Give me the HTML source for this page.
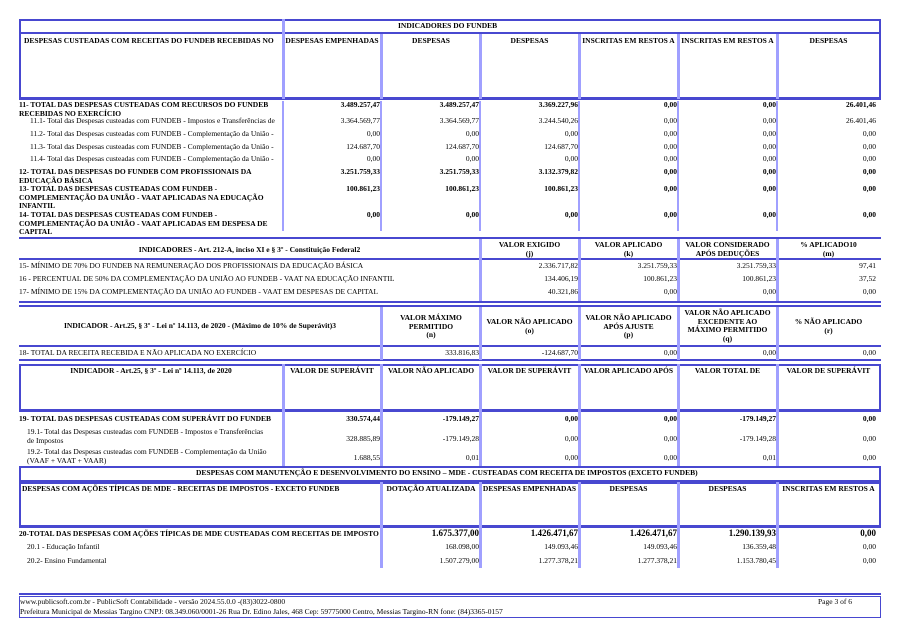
<!DOCTYPE html>
<html><head><meta charset="utf-8"><style>
body{margin:0;width:900px;height:637px;background:#fff;position:relative;overflow:hidden}
div{position:absolute;box-sizing:border-box}
.t{font-family:"Liberation Serif",serif;font-size:7.5px;line-height:8.5px;white-space:nowrap;color:#000}
.b{font-weight:bold}
.r{text-align:right}
.c{text-align:center}
.hd{background:#4848d0}
.lt{background:#a0a0ff}
.box{border:2px solid #4848d0}
</style></head><body>

<!-- SECTION 1 -->
<div class="box" style="left:19px;top:19px;width:862px;height:81px"></div>
<div class="hd" style="left:19px;top:32px;width:862px;height:2px"></div>
<div class="hd" style="left:19px;top:97px;width:862px;height:3px"></div>
<div class="lt" style="left:282px;top:19px;width:3px;height:80px"></div>
<div class="lt" style="left:380px;top:34px;width:3px;height:65px"></div>
<div class="lt" style="left:479px;top:34px;width:3px;height:65px"></div>
<div class="lt" style="left:578px;top:34px;width:3px;height:65px"></div>
<div class="lt" style="left:677px;top:34px;width:3px;height:65px"></div>
<div class="lt" style="left:776px;top:34px;width:3px;height:65px"></div>
<div class="t b" style="left:398px;top:22px">INDICADORES DO FUNDEB</div>
<div class="t b" style="left:24px;top:37px">DESPESAS CUSTEADAS COM RECEITAS DO FUNDEB RECEBIDAS NO</div>
<div class="t b c" style="left:283px;top:37px;width:98px">DESPESAS EMPENHADAS</div>
<div class="t b c" style="left:382px;top:37px;width:98px">DESPESAS</div>
<div class="t b c" style="left:480px;top:37px;width:99px">DESPESAS</div>
<div class="t b c" style="left:579px;top:37px;width:99px">INSCRITAS EM RESTOS A</div>
<div class="t b c" style="left:678px;top:37px;width:99px">INSCRITAS EM RESTOS A</div>
<div class="t b c" style="left:777px;top:37px;width:103px">DESPESAS</div>

<div class="lt" style="left:282px;top:101px;width:2px;height:130px"></div>
<div class="lt" style="left:380px;top:101px;width:2px;height:130px"></div>
<div class="lt" style="left:479px;top:101px;width:2px;height:130px"></div>
<div class="lt" style="left:578px;top:101px;width:2px;height:130px"></div>
<div class="lt" style="left:677px;top:101px;width:2px;height:130px"></div>
<div class="lt" style="left:776px;top:101px;width:2px;height:130px"></div>

<div class="t b" style="left:19px;top:101px">11- TOTAL DAS DESPESAS CUSTEADAS COM RECURSOS DO FUNDEB<br>RECEBIDAS NO EXERCÍCIO</div>
<div class="t" style="left:30px;top:117px">11.1- Total das Despesas custeadas com FUNDEB - Impostos e Transferências de</div>
<div class="t" style="left:30px;top:130px">11.2- Total das Despesas custeadas com FUNDEB - Complementação da União -</div>
<div class="t" style="left:30px;top:143px">11.3- Total das Despesas custeadas com FUNDEB - Complementação da União -</div>
<div class="t" style="left:30px;top:155px">11.4- Total das Despesas custeadas com FUNDEB - Complementação da União -</div>
<div class="t b" style="left:19px;top:168px">12- TOTAL DAS DESPESAS DO FUNDEB COM PROFISSIONAIS DA<br>EDUCAÇÃO BÁSICA</div>
<div class="t b" style="left:19px;top:185px">13- TOTAL DAS DESPESAS CUSTEADAS COM FUNDEB -<br>COMPLEMENTAÇÃO DA UNIÃO - VAAT APLICADAS NA EDUCAÇÃO<br>INFANTIL</div>
<div class="t b" style="left:19px;top:211px">14- TOTAL DAS DESPESAS CUSTEADAS COM FUNDEB -<br>COMPLEMENTAÇÃO DA UNIÃO - VAAT APLICADAS EM DESPESA DE<br>CAPITAL</div>

<div class="t b r" style="left:283px;top:101px;width:97px">3.489.257,47</div>
<div class="t b r" style="left:382px;top:101px;width:97px">3.489.257,47</div>
<div class="t b r" style="left:480px;top:101px;width:98px">3.369.227,96</div>
<div class="t b r" style="left:579px;top:101px;width:98px">0,00</div>
<div class="t b r" style="left:678px;top:101px;width:98px">0,00</div>
<div class="t b r" style="left:777px;top:101px;width:99px">26.401,46</div>

<div class="t r" style="left:283px;top:117px;width:97px">3.364.569,77</div>
<div class="t r" style="left:382px;top:117px;width:97px">3.364.569,77</div>
<div class="t r" style="left:480px;top:117px;width:98px">3.244.540,26</div>
<div class="t r" style="left:579px;top:117px;width:98px">0,00</div>
<div class="t r" style="left:678px;top:117px;width:98px">0,00</div>
<div class="t r" style="left:777px;top:117px;width:99px">26.401,46</div>

<div class="t r" style="left:283px;top:130px;width:97px">0,00</div>
<div class="t r" style="left:382px;top:130px;width:97px">0,00</div>
<div class="t r" style="left:480px;top:130px;width:98px">0,00</div>
<div class="t r" style="left:579px;top:130px;width:98px">0,00</div>
<div class="t r" style="left:678px;top:130px;width:98px">0,00</div>
<div class="t r" style="left:777px;top:130px;width:99px">0,00</div>

<div class="t r" style="left:283px;top:143px;width:97px">124.687,70</div>
<div class="t r" style="left:382px;top:143px;width:97px">124.687,70</div>
<div class="t r" style="left:480px;top:143px;width:98px">124.687,70</div>
<div class="t r" style="left:579px;top:143px;width:98px">0,00</div>
<div class="t r" style="left:678px;top:143px;width:98px">0,00</div>
<div class="t r" style="left:777px;top:143px;width:99px">0,00</div>

<div class="t r" style="left:283px;top:155px;width:97px">0,00</div>
<div class="t r" style="left:382px;top:155px;width:97px">0,00</div>
<div class="t r" style="left:480px;top:155px;width:98px">0,00</div>
<div class="t r" style="left:579px;top:155px;width:98px">0,00</div>
<div class="t r" style="left:678px;top:155px;width:98px">0,00</div>
<div class="t r" style="left:777px;top:155px;width:99px">0,00</div>

<div class="t b r" style="left:283px;top:168px;width:97px">3.251.759,33</div>
<div class="t b r" style="left:382px;top:168px;width:97px">3.251.759,33</div>
<div class="t b r" style="left:480px;top:168px;width:98px">3.132.379,82</div>
<div class="t b r" style="left:579px;top:168px;width:98px">0,00</div>
<div class="t b r" style="left:678px;top:168px;width:98px">0,00</div>
<div class="t b r" style="left:777px;top:168px;width:99px">0,00</div>

<div class="t b r" style="left:283px;top:185px;width:97px">100.861,23</div>
<div class="t b r" style="left:382px;top:185px;width:97px">100.861,23</div>
<div class="t b r" style="left:480px;top:185px;width:98px">100.861,23</div>
<div class="t b r" style="left:579px;top:185px;width:98px">0,00</div>
<div class="t b r" style="left:678px;top:185px;width:98px">0,00</div>
<div class="t b r" style="left:777px;top:185px;width:99px">0,00</div>

<div class="t b r" style="left:283px;top:211px;width:97px">0,00</div>
<div class="t b r" style="left:382px;top:211px;width:97px">0,00</div>
<div class="t b r" style="left:480px;top:211px;width:98px">0,00</div>
<div class="t b r" style="left:579px;top:211px;width:98px">0,00</div>
<div class="t b r" style="left:678px;top:211px;width:98px">0,00</div>
<div class="t b r" style="left:777px;top:211px;width:99px">0,00</div>

<!-- SECTION 2 -->
<div class="hd" style="left:19px;top:237px;width:862px;height:2px"></div>
<div class="hd" style="left:19px;top:258px;width:862px;height:2px"></div>
<div class="lt" style="left:479px;top:239px;width:3px;height:63px"></div>
<div class="lt" style="left:578px;top:239px;width:3px;height:63px"></div>
<div class="lt" style="left:677px;top:239px;width:3px;height:63px"></div>
<div class="lt" style="left:776px;top:239px;width:3px;height:63px"></div>
<div class="t b c" style="left:19px;top:246px;width:461px">INDICADORES - Art. 212-A, inciso XI e § 3º - Constituição Federal2</div>
<div class="t b c" style="left:480px;top:241px;width:99px">VALOR EXIGIDO<br>(j)</div>
<div class="t b c" style="left:579px;top:241px;width:99px">VALOR APLICADO<br>(k)</div>
<div class="t b c" style="left:678px;top:241px;width:99px">VALOR CONSIDERADO<br>APÓS DEDUÇÕES</div>
<div class="t b c" style="left:777px;top:241px;width:103px">% APLICADO10<br>(m)</div>
<div class="t" style="left:19px;top:262px">15- MÍNIMO DE 70% DO FUNDEB NA REMUNERAÇÃO DOS PROFISSIONAIS DA EDUCAÇÃO BÁSICA</div>
<div class="t" style="left:19px;top:275px">16 - PERCENTUAL DE 50% DA COMPLEMENTAÇÃO DA UNIÃO AO FUNDEB - VAAT NA EDUCAÇÃO INFANTIL</div>
<div class="t" style="left:19px;top:288px">17- MÍNIMO DE 15% DA COMPLEMENTAÇÃO DA UNIÃO AO FUNDEB - VAAT EM DESPESAS DE CAPITAL</div>
<div class="t r" style="left:480px;top:262px;width:98px">2.336.717,82</div>
<div class="t r" style="left:579px;top:262px;width:98px">3.251.759,33</div>
<div class="t r" style="left:678px;top:262px;width:98px">3.251.759,33</div>
<div class="t r" style="left:777px;top:262px;width:99px">97,41</div>
<div class="t r" style="left:480px;top:275px;width:98px">134.406,19</div>
<div class="t r" style="left:579px;top:275px;width:98px">100.861,23</div>
<div class="t r" style="left:678px;top:275px;width:98px">100.861,23</div>
<div class="t r" style="left:777px;top:275px;width:99px">37,52</div>
<div class="t r" style="left:480px;top:288px;width:98px">40.321,86</div>
<div class="t r" style="left:579px;top:288px;width:98px">0,00</div>
<div class="t r" style="left:678px;top:288px;width:98px">0,00</div>
<div class="t r" style="left:777px;top:288px;width:99px">0,00</div>

<!-- SECTION 3 -->
<div class="hd" style="left:19px;top:301px;width:862px;height:2px"></div>
<div class="hd" style="left:19px;top:305px;width:862px;height:2px"></div>
<div class="hd" style="left:19px;top:345px;width:862px;height:2px"></div>
<div class="hd" style="left:19px;top:359px;width:862px;height:2px"></div>
<div class="lt" style="left:380px;top:307px;width:3px;height:53px"></div>
<div class="lt" style="left:479px;top:307px;width:3px;height:53px"></div>
<div class="lt" style="left:578px;top:307px;width:3px;height:53px"></div>
<div class="lt" style="left:677px;top:307px;width:3px;height:53px"></div>
<div class="lt" style="left:776px;top:307px;width:3px;height:53px"></div>
<div class="t b c" style="left:19px;top:322px;width:362px">INDICADOR - Art.25, § 3º - Lei nº 14.113, de 2020 - (Máximo de 10% de Superávit)3</div>
<div class="t b c" style="left:382px;top:314px;width:98px">VALOR MÁXIMO<br>PERMITIDO<br>(n)</div>
<div class="t b c" style="left:480px;top:318px;width:99px">VALOR NÃO APLICADO<br>(o)</div>
<div class="t b c" style="left:579px;top:314px;width:99px">VALOR NÃO APLICADO<br>APÓS AJUSTE<br>(p)</div>
<div class="t b c" style="left:678px;top:309px;width:99px">VALOR NÃO APLICADO<br>EXCEDENTE AO<br>MÁXIMO PERMITIDO<br>(q)</div>
<div class="t b c" style="left:777px;top:318px;width:103px">% NÃO APLICADO<br>(r)</div>
<div class="t" style="left:19px;top:349px">18- TOTAL DA RECEITA RECEBIDA E NÃO APLICADA NO EXERCÍCIO</div>
<div class="t r" style="left:382px;top:349px;width:97px">333.816,83</div>
<div class="t r" style="left:480px;top:349px;width:98px">-124.687,70</div>
<div class="t r" style="left:579px;top:349px;width:98px">0,00</div>
<div class="t r" style="left:678px;top:349px;width:98px">0,00</div>
<div class="t r" style="left:777px;top:349px;width:99px">0,00</div>

<!-- SECTION 4 -->
<div class="box" style="left:19px;top:364px;width:862px;height:48px"></div>
<div class="hd" style="left:19px;top:409px;width:862px;height:3px"></div>
<div class="lt" style="left:282px;top:364px;width:3px;height:102px"></div>
<div class="lt" style="left:380px;top:364px;width:3px;height:102px"></div>
<div class="lt" style="left:479px;top:364px;width:3px;height:102px"></div>
<div class="lt" style="left:578px;top:364px;width:3px;height:102px"></div>
<div class="lt" style="left:677px;top:364px;width:3px;height:102px"></div>
<div class="lt" style="left:776px;top:364px;width:3px;height:102px"></div>
<div class="t b c" style="left:19px;top:367px;width:264px">INDICADOR - Art.25, § 3º - Lei nº 14.113, de 2020</div>
<div class="t b c" style="left:283px;top:367px;width:98px">VALOR DE SUPERÁVIT</div>
<div class="t b c" style="left:382px;top:367px;width:98px">VALOR NÃO APLICADO</div>
<div class="t b c" style="left:480px;top:367px;width:99px">VALOR DE SUPERÁVIT</div>
<div class="t b c" style="left:579px;top:367px;width:99px">VALOR APLICADO APÓS</div>
<div class="t b c" style="left:678px;top:367px;width:99px">VALOR TOTAL DE</div>
<div class="t b c" style="left:777px;top:367px;width:103px">VALOR DE SUPERÁVIT</div>
<div class="t b" style="left:19px;top:415px">19- TOTAL DAS DESPESAS CUSTEADAS COM SUPERÁVIT DO FUNDEB</div>
<div class="t" style="left:27px;top:428px">19.1- Total das Despesas custeadas com FUNDEB - Impostos e Transferências<br>de Impostos</div>
<div class="t" style="left:27px;top:448px">19.2- Total das Despesas custeadas com FUNDEB - Complementação da União<br>(VAAF + VAAT + VAAR)</div>
<div class="t b r" style="left:283px;top:415px;width:97px">330.574,44</div>
<div class="t b r" style="left:382px;top:415px;width:97px">-179.149,27</div>
<div class="t b r" style="left:480px;top:415px;width:98px">0,00</div>
<div class="t b r" style="left:579px;top:415px;width:98px">0,00</div>
<div class="t b r" style="left:678px;top:415px;width:98px">-179.149,27</div>
<div class="t b r" style="left:777px;top:415px;width:99px">0,00</div>
<div class="t r" style="left:283px;top:435px;width:97px">328.885,89</div>
<div class="t r" style="left:382px;top:435px;width:97px">-179.149,28</div>
<div class="t r" style="left:480px;top:435px;width:98px">0,00</div>
<div class="t r" style="left:579px;top:435px;width:98px">0,00</div>
<div class="t r" style="left:678px;top:435px;width:98px">-179.149,28</div>
<div class="t r" style="left:777px;top:435px;width:99px">0,00</div>
<div class="t r" style="left:283px;top:454px;width:97px">1.688,55</div>
<div class="t r" style="left:382px;top:454px;width:97px">0,01</div>
<div class="t r" style="left:480px;top:454px;width:98px">0,00</div>
<div class="t r" style="left:579px;top:454px;width:98px">0,00</div>
<div class="t r" style="left:678px;top:454px;width:98px">0,01</div>
<div class="t r" style="left:777px;top:454px;width:99px">0,00</div>

<!-- SECTION 5 -->
<div class="box" style="left:19px;top:466px;width:862px;height:16px"></div>
<div class="t b" style="left:196px;top:469px">DESPESAS COM MANUTENÇÃO E DESENVOLVIMENTO DO ENSINO – MDE -  CUSTEADAS COM RECEITA DE IMPOSTOS (EXCETO FUNDEB)</div>
<div class="box" style="left:19px;top:482px;width:862px;height:46px"></div>
<div class="hd" style="left:19px;top:525px;width:862px;height:3px"></div>
<div class="lt" style="left:380px;top:482px;width:3px;height:86px"></div>
<div class="lt" style="left:479px;top:482px;width:3px;height:86px"></div>
<div class="lt" style="left:578px;top:482px;width:3px;height:86px"></div>
<div class="lt" style="left:677px;top:482px;width:3px;height:86px"></div>
<div class="lt" style="left:776px;top:482px;width:3px;height:86px"></div>
<div class="t b" style="left:22px;top:485px">DESPESAS COM AÇÕES TÍPICAS DE MDE - RECEITAS DE IMPOSTOS - EXCETO FUNDEB</div>
<div class="t b c" style="left:382px;top:485px;width:98px">DOTAÇÃO ATUALIZADA</div>
<div class="t b c" style="left:480px;top:485px;width:99px">DESPESAS EMPENHADAS</div>
<div class="t b c" style="left:579px;top:485px;width:99px">DESPESAS</div>
<div class="t b c" style="left:678px;top:485px;width:99px">DESPESAS</div>
<div class="t b c" style="left:777px;top:485px;width:103px">INSCRITAS EM RESTOS A</div>
<div class="t b" style="left:19px;top:530px">20-TOTAL DAS DESPESAS COM AÇÕES TÍPICAS DE MDE CUSTEADAS COM RECEITAS DE IMPOSTO</div>
<div class="t" style="left:27px;top:543px">20.1 - Educação Infantil</div>
<div class="t" style="left:27px;top:557px">20.2- Ensino Fundamental</div>
<div class="t b r" style="left:382px;top:529px;width:97px;font-size:9px">1.675.377,00</div>
<div class="t b r" style="left:480px;top:529px;width:98px;font-size:9px">1.426.471,67</div>
<div class="t b r" style="left:579px;top:529px;width:98px;font-size:9px">1.426.471,67</div>
<div class="t b r" style="left:678px;top:529px;width:98px;font-size:9px">1.290.139,93</div>
<div class="t b r" style="left:777px;top:529px;width:99px;font-size:9px">0,00</div>
<div class="t r" style="left:382px;top:543px;width:97px">168.098,00</div>
<div class="t r" style="left:480px;top:543px;width:98px">149.093,46</div>
<div class="t r" style="left:579px;top:543px;width:98px">149.093,46</div>
<div class="t r" style="left:678px;top:543px;width:98px">136.359,48</div>
<div class="t r" style="left:777px;top:543px;width:99px">0,00</div>
<div class="t r" style="left:382px;top:557px;width:97px">1.507.279,00</div>
<div class="t r" style="left:480px;top:557px;width:98px">1.277.378,21</div>
<div class="t r" style="left:579px;top:557px;width:98px">1.277.378,21</div>
<div class="t r" style="left:678px;top:557px;width:98px">1.153.780,45</div>
<div class="t r" style="left:777px;top:557px;width:99px">0,00</div>

<!-- FOOTER -->
<div class="hd" style="left:19px;top:593px;width:862px;height:2px"></div>
<div class="box" style="left:19px;top:596px;width:862px;height:22px;border-width:1px"></div>
<div class="t" style="left:20px;top:598px">www.publicsoft.com.br - PublicSoft Contabilidade - versão 2024.55.0.0 -(83)3022-0800</div>
<div class="t" style="left:20px;top:608px">Prefeitura Municipal de Messias Targino CNPJ: 08.349.060/0001-26 Rua Dr. Edino Jales, 468 Cep: 59775000 Centro, Messias Targino-RN fone: (84)3365-0157</div>
<div class="t" style="left:818px;top:598px">Page 3 of 6</div>
</body></html>
